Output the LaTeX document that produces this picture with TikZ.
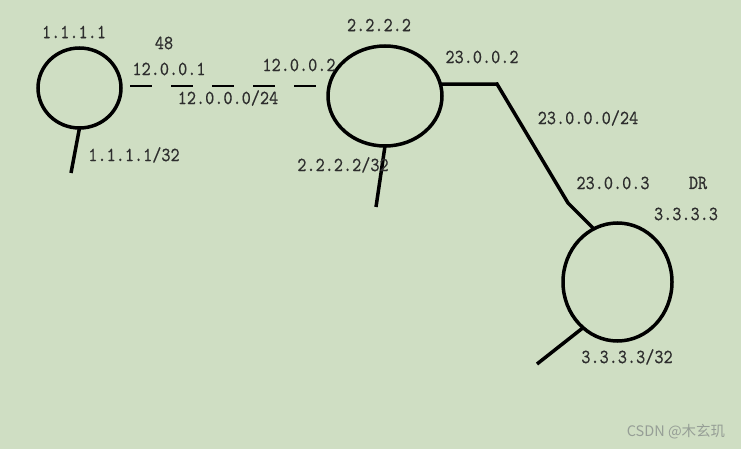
\documentclass[tikz,border=0pt]{standalone}
\usepackage{fontspec}
\newfontfamily\cjk{Noto Sans CJK SC}
\newfontfamily\addrfont{lmmono10-regular.otf}[FakeStretch=0.87,FakeBold=0.4]
\usetikzlibrary{shapes.geometric}
\definecolor{paper}{RGB}{207,222,195}
\definecolor{ink}{RGB}{45,45,45}
\definecolor{mark}{RGB}{150,158,150}

\begin{document}
\begin{tikzpicture}[x=1pt,y=-1pt,
router/.style={draw,ellipse,line width=3.5pt,inner sep=0pt,outer sep=0pt},
wire/.style={line width=3.5pt},
lan/.style={line width=1.2pt,dash pattern=on 22pt off 19pt},
addr/.style={text=ink,inner sep=0pt,font=\addrfont\fontsize{20}{24}\selectfont}]
\fill[paper] (0,0) rectangle (741,449);
\useasboundingbox (0,0) rectangle (741,449);

\node (r1) [router,minimum width=83pt,minimum height=80pt] at (79.5,88) {};
\node (r2) [router,minimum width=114pt,minimum height=100pt] at (385,96) {};
\node (r3) [router,minimum width=109pt,minimum height=118pt] at (617.5,282) {};

\coordinate (s1) at (71,173);
\coordinate (s2) at (376,207);
\coordinate (s3) at (537,364);
\coordinate (w1) at (497,84);
\coordinate (w2) at (568,203);

\draw[wire] (r1.south) -- (s1);
\draw[wire] (r2.south) -- (s2);
\draw[wire] (r3.233) -- (s3);
\draw[wire] (r2.12) -- (w1) -- (w2) -- (r3.114);
\draw[lan] ([xshift=9pt,yshift=2pt]r1.east) -- ([xshift=-6pt,yshift=10pt]r2.west);

\node (id1) [addr] at (74,32) {1.1.1.1};
\node (lo1) [addr] at (134,155) {1.1.1.1/32};
\node (cost) [addr] at (164,43) {48};
\node (ip121) [addr] at (169,69) {12.0.0.1};
\node (net12) [addr] at (228,98) {12.0.0.0/24};
\node (ip122) [addr] at (299,65) {12.0.0.2};
\node (id2) [addr] at (379,25) {2.2.2.2};
\node (lo2) [addr] at (343,165) {2.2.2.2/32};
\node (ip232) [addr] at (482,57) {23.0.0.2};
\node (net23) [addr] at (588,118) {23.0.0.0/24};
\node (ip233) [addr] at (613,183) {23.0.0.3};
\node (dr) [addr] at (698,183) {DR};
\node (id3) [addr] at (686,214) {3.3.3.3};
\node (lo3) [addr] at (627,357) {3.3.3.3/32};

\node (wm) [text=mark,inner sep=0pt,font=\cjk\fontsize{14.5}{17}\selectfont] at (676,432) {CSDN @木玄玑};
\end{tikzpicture}
\end{document}
